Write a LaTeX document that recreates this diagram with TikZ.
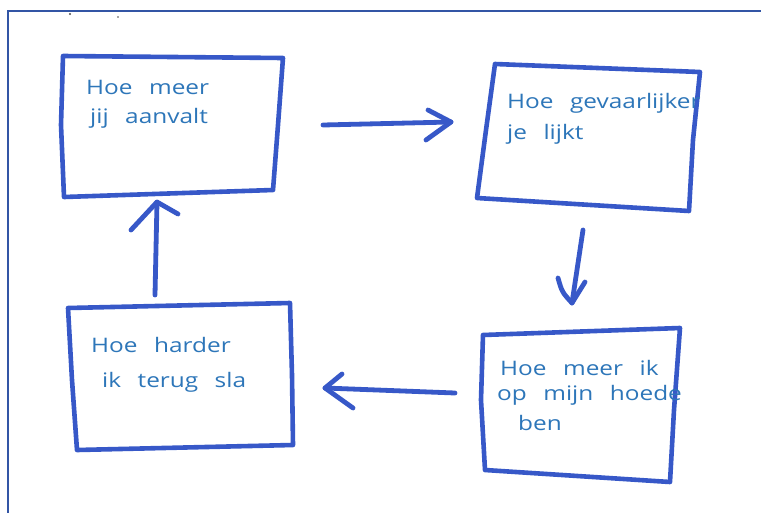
\documentclass[tikz,border=0pt]{standalone}
\usepackage{fontspec}
\setmainfont{Open Sans}[FakeStretch=1.22,WordSpace=2.6]
\definecolor{marker}{RGB}{55,88,200}
\definecolor{ink}{RGB}{45,118,185}
\definecolor{framec}{RGB}{50,85,165}
\tikzset{
  boxline/.style={draw=marker,line width=4.6pt,line join=round,line cap=round},
  arrline/.style={draw=marker,line width=4.8pt,line join=round,line cap=round},
  hand/.style={inner sep=0pt,anchor=base west,text=ink,font=\fontsize{20}{24}\selectfont},
}
\begin{document}
\begin{tikzpicture}[x=1pt,y=1pt]
\useasboundingbox (0,0) rectangle (761,-512);
\fill[white] (0,0) rectangle (761,-512);
% outer frame
\draw[framec,line width=2pt] (8,-530) -- (8,-11) -- (780,-11);
\fill[black!70] (70,-14) circle (1.2pt);
\fill[black!70] (118,-17) circle (0.8pt);

% box 1
\draw[boxline] (63,-56) -- (283,-58) -- (278,-125) -- (273,-190) -- (64,-197) -- (61,-125) -- cycle;
% box 2
\draw[boxline] (495,-64) -- (700,-72) -- (693,-140) -- (689,-211) -- (477,-198) -- (486,-130) -- cycle;
% box 3
\draw[boxline] (483,-335) -- (680,-328) -- (674,-410) -- (670,-482) -- (485,-470) -- (481,-400) -- cycle;
% box 4
\draw[boxline] (68,-308) -- (290,-303) -- (292,-375) -- (293,-445) -- (77,-450) -- (72,-380) -- cycle;

% texts
\node[hand] (t1a) at (86,-94) {Hoe meer};
\node[hand] (t1b) at (90,-123) {jij aanvalt};
\node[hand] (t2a) at (507,-108) {Hoe gevaarlijker};
\node[hand] (t2b) at (507,-139) {je lijkt};
\node[hand] (t3a) at (500,-375) {Hoe meer ik};
\node[hand] (t3b) at (497,-400) {op mijn hoede};
\node[hand] (t3c) at (518,-430) {ben};
\node[hand] (t4a) at (91,-352) {Hoe harder};
\node[hand] (t4b) at (102,-387) {ik terug sla};

% arrows
\coordinate (a1s) at (323,-125); \coordinate (a1t) at (451,-122);
\coordinate (a1u) at (428,-110); \coordinate (a1d) at (426,-140);
\draw[arrline] (a1s) -- (a1t);
\draw[arrline] (a1u) -- (a1t) -- (a1d);

\coordinate (a2s) at (583,-230); \coordinate (a2t) at (572,-303);
\coordinate (a2l) at (558,-278); \coordinate (a2r) at (585,-282);
\draw[arrline] (a2s) -- (a2t);
\draw[arrline] (a2l) .. controls (562,-292) .. (a2t) -- (a2r);

\coordinate (a3s) at (455,-393); \coordinate (a3t) at (325,-388);
\coordinate (a3u) at (342,-374); \coordinate (a3d) at (353,-408);
\draw[arrline] (a3s) -- (a3t);
\draw[arrline] (a3u) -- (a3t) -- (a3d);

\coordinate (a4s) at (155,-295); \coordinate (a4t) at (157,-202);
\coordinate (a4l) at (131,-230); \coordinate (a4r) at (178,-214);
\draw[arrline] (a4s) -- (a4t);
\draw[arrline] (a4l) -- (a4t) -- (a4r);
\end{tikzpicture}
\end{document}
